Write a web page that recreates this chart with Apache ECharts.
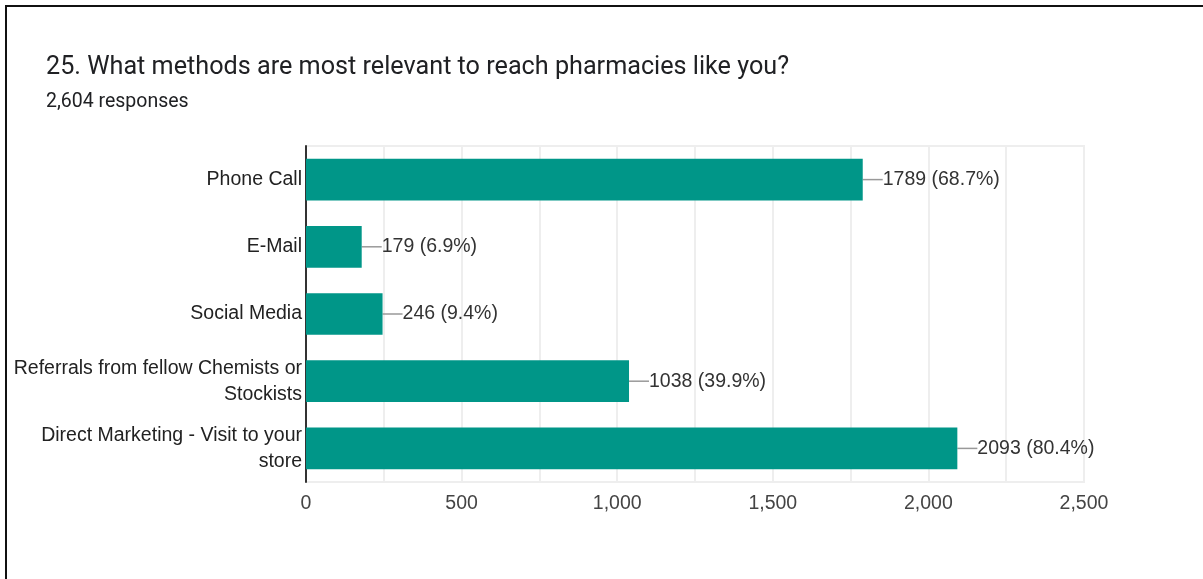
<!DOCTYPE html>
<html>
<head>
<meta charset="utf-8">
<script src="https://cdn.jsdelivr.net/npm/echarts@6/dist/echarts.min.js"></script>
<style>
html,body{margin:0;padding:0;background:#fff;}
#frame{position:absolute;left:5px;top:5px;width:1198px;height:574px;border-left:2px solid #111;border-top:2px solid #111;box-sizing:border-box;}
#chart{position:absolute;left:0;top:0;width:1203px;height:579px;}
</style>
</head>
<body>
<div id="frame"></div>
<div id="chart"></div>
<script>
const titleText = "25. What methods are most relevant to reach pharmacies like you?";
const subtitleText = "2,604 responses";
const categories = ["Phone Call", "E-Mail", "Social Media", "Referrals from fellow Chemists or\nStockists", "Direct Marketing - Visit to your\nstore"];
const counts = [1789, 179, 246, 1038, 2093];
const percents = ["68.7%", "6.9%", "9.4%", "39.9%", "80.4%"];
const xTicks = [0, 500, 1000, 1500, 2000, 2500];

const chart = echarts.init(document.getElementById('chart'));
chart.setOption({
  animation: false,
  title: {
    text: titleText,
    subtext: subtitleText,
    left: 41,
    top: 50,
    itemGap: 12,
    textStyle: {fontFamily: 'Roboto', fontSize: 25.2, fontWeight: 'normal', color: '#202124'},
    subtextStyle: {fontFamily: 'Roboto', fontSize: 19.5, color: '#202124'}
  },
  grid: {left: 306, right: 119, top: 146, bottom: 97, containLabel: false,
         show: true, borderColor: '#eeeeee', borderWidth: 2},
  xAxis: {
    type: 'value',
    min: 0, max: 2500, interval: 250,
    axisLine: {show: false},
    axisTick: {show: false},
    splitLine: {show: true, lineStyle: {color: '#eeeeee', width: 2}},
    axisLabel: {
      margin: 12,
      fontFamily: 'Liberation Sans', fontSize: 19.5, color: '#444',
      formatter: v => xTicks.includes(v) ? v.toLocaleString('en-US') : ''
    }
  },
  yAxis: {
    type: 'category',
    inverse: true,
    data: categories,
    axisLine: {show: true, lineStyle: {color: '#333', width: 2}},
    axisTick: {show: false},
    splitLine: {show: false},
    axisLabel: {
      margin: 4,
      fontFamily: 'Liberation Sans', fontSize: 19.5, color: '#222', lineHeight: 26, align: 'right'
    }
  },
  series: [{
    type: 'bar',
    data: counts,
    barWidth: '62%',
    itemStyle: {color: '#009688'},
    label: {
      show: true,
      position: 'right',
      distance: 20,
      fontFamily: 'Liberation Sans', fontSize: 19.5, color: '#333',
      formatter: p => counts[p.dataIndex] + ' (' + percents[p.dataIndex] + ')'
    }
  }, {
    type: 'custom',
    data: counts.map((v, i) => [v, i]),
    encode: {x: 0, y: 1},
    silent: true,
    z: 1,
    renderItem: (params, api) => {
      const p = api.coord([api.value(0), api.value(1)]);
      return {type: 'line', shape: {x1: p[0], y1: p[1], x2: p[0] + 20, y2: p[1]}, style: {stroke: '#999', lineWidth: 1.5}};
    }
  }]
});
</script>
</body>
</html>
